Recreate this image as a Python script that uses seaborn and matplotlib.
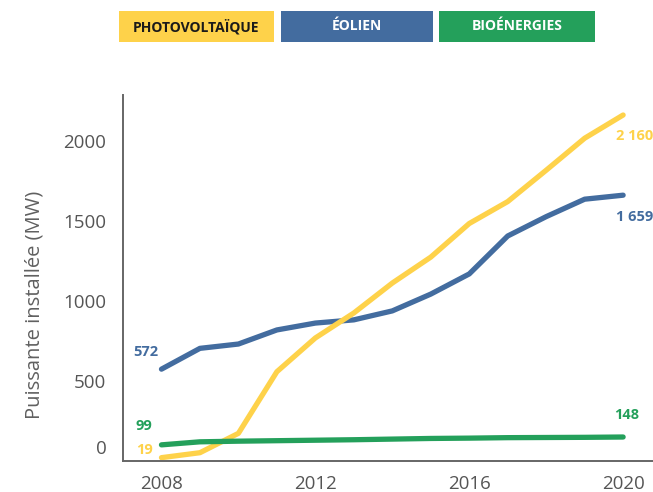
import matplotlib
matplotlib.use("Agg")
import matplotlib.pyplot as plt
import matplotlib.patches as mpatches
import matplotlib.transforms as mtransforms
import seaborn as sns
import pandas as pd

years = list(range(2008, 2021))
photovoltaique = [19, 50, 171, 556, 767, 923, 1110, 1272, 1482, 1619, 1815, 2015, 2160]
eolien = [572, 702, 729, 817, 860, 880, 936, 1041, 1167, 1404, 1525, 1634, 1659]
bioenergies = [99, 118, 122, 125, 128, 131, 135, 139, 141, 144, 145, 146, 148]

series_names = ["PHOTOVOLTAÏQUE", "ÉOLIEN", "BIOÉNERGIES"]
series_colors = ["#FED24A", "#436C9F", "#24A05B"]
legend_text_colors = ["#1a1a1a", "white", "white"]
x_ticks = [2008, 2012, 2016, 2020]
y_ticks = [0, 500, 1000, 1500, 2000]

df = pd.DataFrame({
    "Année": years * 3,
    "Puissance": photovoltaique + eolien + bioenergies,
    "Filière": sum([[n] * len(years) for n in series_names], []),
})

sns.set_theme(style="white")
plt.rcParams["font.family"] = ["Open Sans", "DejaVu Sans"]

W, H = 653, 492
fig = plt.figure(figsize=(W / 100, H / 100), dpi=100)
ax = fig.add_axes([123 / W, 1 - 460.7 / H, (661.6 - 123) / W, (460.7 - 95) / H])

# draw order: wind first, then solar, bioenergy on top
for name, color in zip(["ÉOLIEN", "PHOTOVOLTAÏQUE", "BIOÉNERGIES"],
                       [series_colors[1], series_colors[0], series_colors[2]]):
    sub = df[df["Filière"] == name]
    sns.lineplot(data=sub, x="Année", y="Puissance", color=color, lw=3.8,
                 ax=ax, legend=False, solid_capstyle="round",
                 solid_joinstyle="round")

ax.set_xlim(2007, 2021)
ax.set_ylim(0, 2285)
ax.set_xticks(x_ticks)
ax.set_yticks(y_ticks)
ax.set_xlabel("")
ax.set_ylabel("Puissante installée (MW)", fontsize=14.5, color="#606060")
ax.yaxis.set_label_coords(-0.145, 0.425)

grey = "#666666"
for side in ["top", "right"]:
    ax.spines[side].set_visible(False)
for side in ["left", "bottom"]:
    ax.spines[side].set_color(grey)
    ax.spines[side].set_linewidth(1.4)
ax.tick_params(axis="both", colors=grey, labelcolor="#555555", labelsize=13.5,
               length=8, width=1.4, direction="out")
ax.tick_params(axis="x", pad=2)
ax.tick_params(axis="y", pad=4)

# lift the zero label off the x axis
for lbl in ax.get_yticklabels():
    if lbl.get_text() in ("0", "−0"):
        lbl.set_transform(lbl.get_transform() +
                          mtransforms.ScaledTranslation(0, 14 / 100, fig.dpi_scale_trans))

# value annotations at the ends of each series
lab_kw = dict(fontsize=10.5, fontweight="bold")
ax.text(years[0] - 0.42, eolien[0] + 110, f"{eolien[0]}", color=series_colors[1],
        ha="center", va="center", **lab_kw)
ax.text(years[0] - 0.45, bioenergies[0] + 120, f"{bioenergies[0]}", color=series_colors[2],
        ha="center", va="center", **lab_kw)
ax.text(years[0] - 0.45, photovoltaique[0] + 45, f"{photovoltaique[0]}", color=series_colors[0],
        ha="center", va="center", **lab_kw)
ax.text(years[-1] - 0.18, photovoltaique[-1] - 130, "2 160", color=series_colors[0],
        ha="left", va="center", **lab_kw)
ax.text(years[-1] - 0.18, eolien[-1] - 135, "1 659", color=series_colors[1],
        ha="left", va="center", **lab_kw)
ax.text(years[-1] + 0.1, bioenergies[-1] + 135, f"{bioenergies[-1]}", color=series_colors[2],
        ha="center", va="center", **lab_kw)

# legend boxes across the top
boxes = [(119, 274), (281, 433), (439, 595)]
y0, y1 = 11, 42
for (x0, x1), name, col, tcol in zip(boxes, series_names, series_colors, legend_text_colors):
    fig.patches.append(mpatches.Rectangle((x0 / W, 1 - y1 / H), (x1 - x0) / W, (y1 - y0) / H,
                                          transform=fig.transFigure, facecolor=col,
                                          edgecolor="none"))
    fig.text((x0 + x1) / 2 / W, 1 - (y0 + y1) / 2 / H, name, color=tcol,
             ha="center", va="center", fontsize=10, fontweight="bold")

fig.savefig("out.png", dpi=100)
